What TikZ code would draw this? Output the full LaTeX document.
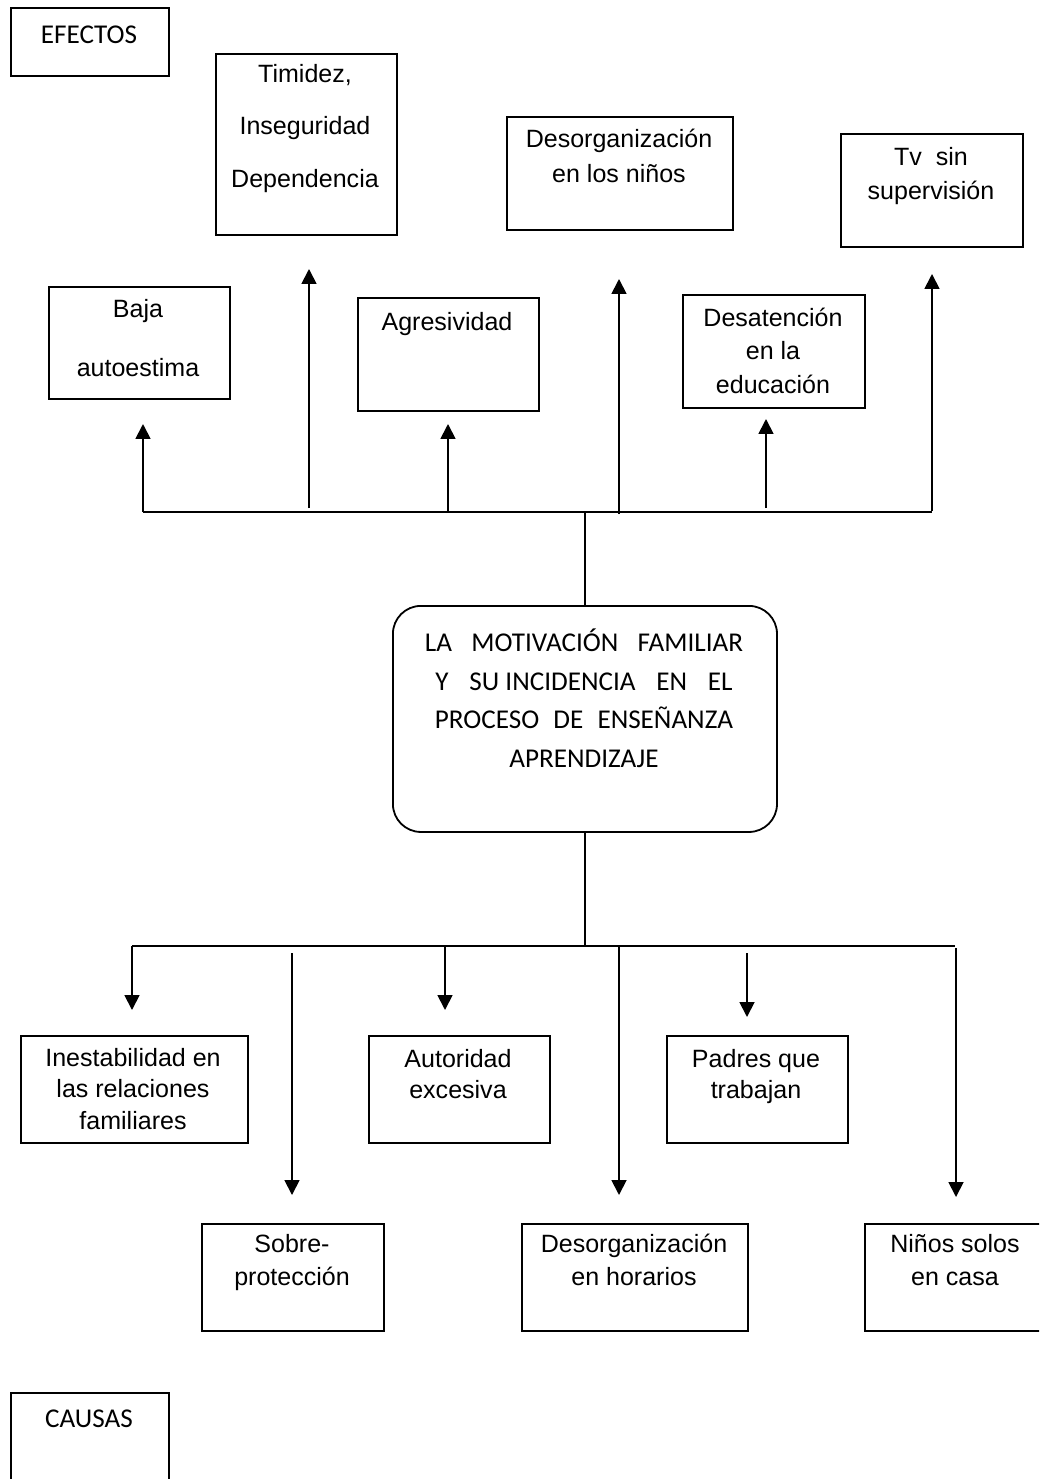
\documentclass[tikz,border=0pt]{standalone}
\usepackage{fontspec}
\setmainfont{Liberation Sans}
\newfontfamily\calibri{Carlito}
\usetikzlibrary{arrows.meta}
\newcommand{\cuerpo}[1]{\fontsize{17.8pt}{#1}\selectfont}
\newcommand{\titular}{\calibri\fontsize{19.3pt}{27.3pt}\selectfont}

\begin{document}
\begin{tikzpicture}[x=0.025cm, y=-0.025cm, line width=0.45mm,
    caja/.style={draw, anchor=north west, inner sep=0pt},
    texto/.style={anchor=base, align=center, inner sep=0pt},
    flecha/.style={-{Triangle[length=3.7mm, width=3.7mm]}}]
  \useasboundingbox (0,0) rectangle (1039,1479);
  \clip (0,0) rectangle (1039,1479);

  % efectos (texto anclado en la linea de base de su ultima linea)
  \node[caja, minimum width=3.95cm,  minimum height=1.7cm]   (efectos)     at (10,7)   {};
  \node[caja, minimum width=4.525cm, minimum height=4.525cm] (timidez)     at (215,53) {};
  \node[caja, minimum width=4.525cm, minimum height=2.8cm]   (baja)        at (48,286) {};
  \node[caja, minimum width=4.525cm, minimum height=2.825cm] (agresividad) at (357,297) {};
  \node[caja, minimum width=5.65cm,  minimum height=2.825cm] (desorgninos) at (506,116) {};
  \node[caja, minimum width=4.55cm,  minimum height=2.825cm] (tv)          at (840,133) {};
  \node[caja, minimum width=4.55cm,  minimum height=2.825cm] (desatencion) at (682,294) {};

  \node[texto, font=\titular]          (efectos-t)     at (89,44)  {EFECTOS};
  \node[texto, font=\cuerpo{37pt}]     (timidez-t)     at (305,187) {Timidez,\\Inseguridad\\Dependencia};
  \node[texto, font=\cuerpo{41.3pt}]   (baja-t)        at (138,376) {Baja\\autoestima};
  \node[texto, font=\cuerpo{23.5pt}]   (agresividad-t) at (447,330) {Agresividad};
  \node[texto, font=\cuerpo{24.2pt}]   (desorgninos-t) at (619,182) {Desorganización\\en los niños};
  \node[texto, font=\cuerpo{23.5pt}]   (tv-t)          at (931,199) {Tv\ \ sin\\supervisión};
  \node[texto, font=\cuerpo{23.5pt}]   (desatencion-t) at (773,393) {Desatención\\en la\\educación};

  % problema central
  \node[caja, rounded corners=0.7cm, minimum width=9.6cm, minimum height=5.65cm] (centro) at (392,605) {};
  \node[texto, font=\titular] (centro-t) at (584,767)
    {\makebox[7.95cm][s]{LA\hfill MOTIVACIÓN\hfill FAMILIAR}\\
     \makebox[7.425cm][s]{Y\hfill SU INCIDENCIA\hfill EN\hfill EL}\\
     \makebox[7.45cm][s]{PROCESO\hfill DE\hfill ENSEÑANZA}\\
     APRENDIZAJE};

  % causas
  \node[caja, minimum width=5.675cm, minimum height=2.675cm] (inestabilidad)  at (20,1035)  {};
  \node[caja, minimum width=4.525cm, minimum height=2.675cm] (autoridad)      at (368,1035) {};
  \node[caja, minimum width=4.525cm, minimum height=2.675cm] (padres)         at (666,1035) {};
  \node[caja, minimum width=4.55cm,  minimum height=2.675cm] (sobre)          at (201,1223) {};
  \node[caja, minimum width=5.65cm,  minimum height=2.675cm] (desorghorarios) at (521,1223) {};
  \node[caja, minimum width=4.525cm, minimum height=2.675cm] (ninos)          at (864,1223) {};
  \node[caja, minimum width=3.95cm,  minimum height=2.5cm]   (causas)         at (10,1392)  {};

  \node[texto, font=\cuerpo{22.4pt}] (inestabilidad-t)  at (133,1129) {Inestabilidad en\\las relaciones\\familiares};
  \node[texto, font=\cuerpo{22pt}]   (autoridad-t)      at (458,1098) {Autoridad\\excesiva};
  \node[texto, font=\cuerpo{22pt}]   (padres-t)         at (756,1098) {Padres que\\trabajan};
  \node[texto, font=\cuerpo{22.8pt}] (sobre-t)          at (292,1285) {Sobre-\\protección};
  \node[texto, font=\cuerpo{22.8pt}] (desorghorarios-t) at (634,1285) {Desorganización\\en horarios};
  \node[texto, font=\cuerpo{22.8pt}] (ninos-t)          at (955,1285) {Niños solos\\en casa};
  \node[texto, font=\titular]        (causas-t)         at (89,1427)  {CAUSAS};

  % flechas hacia los efectos
  \coordinate (barra-e-izq) at (143,512);
  \coordinate (barra-e-der) at (932,512);
  \draw (barra-e-izq) -- (barra-e-der);
  \draw (centro.north) -- (centro.north |- barra-e-izq);
  \foreach \x/\ya/\yb [count=\i] in {143/512/424, 309/508/269, 448/512/424,
                                     619/514/279, 766/508/419, 932/511/274}{
    \coordinate (e\i) at (\x,\ya);
    \coordinate (te\i) at (\x,\yb);
    \draw[flecha] (e\i) -- (te\i);
  }

  % flechas hacia las causas
  \coordinate (barra-c-izq) at (132,946);
  \coordinate (barra-c-der) at (955,946);
  \draw (barra-c-izq) -- (barra-c-der);
  \draw (centro.south) -- (centro.south |- barra-c-izq);
  \foreach \x/\ya/\yb [count=\i] in {132/946/1010, 292/953/1195, 445/946/1010,
                                     619/946/1195, 747/953/1017, 956/948/1197}{
    \coordinate (c\i) at (\x,\ya);
    \coordinate (tc\i) at (\x,\yb);
    \draw[flecha] (c\i) -- (tc\i);
  }
\end{tikzpicture}
\end{document}
